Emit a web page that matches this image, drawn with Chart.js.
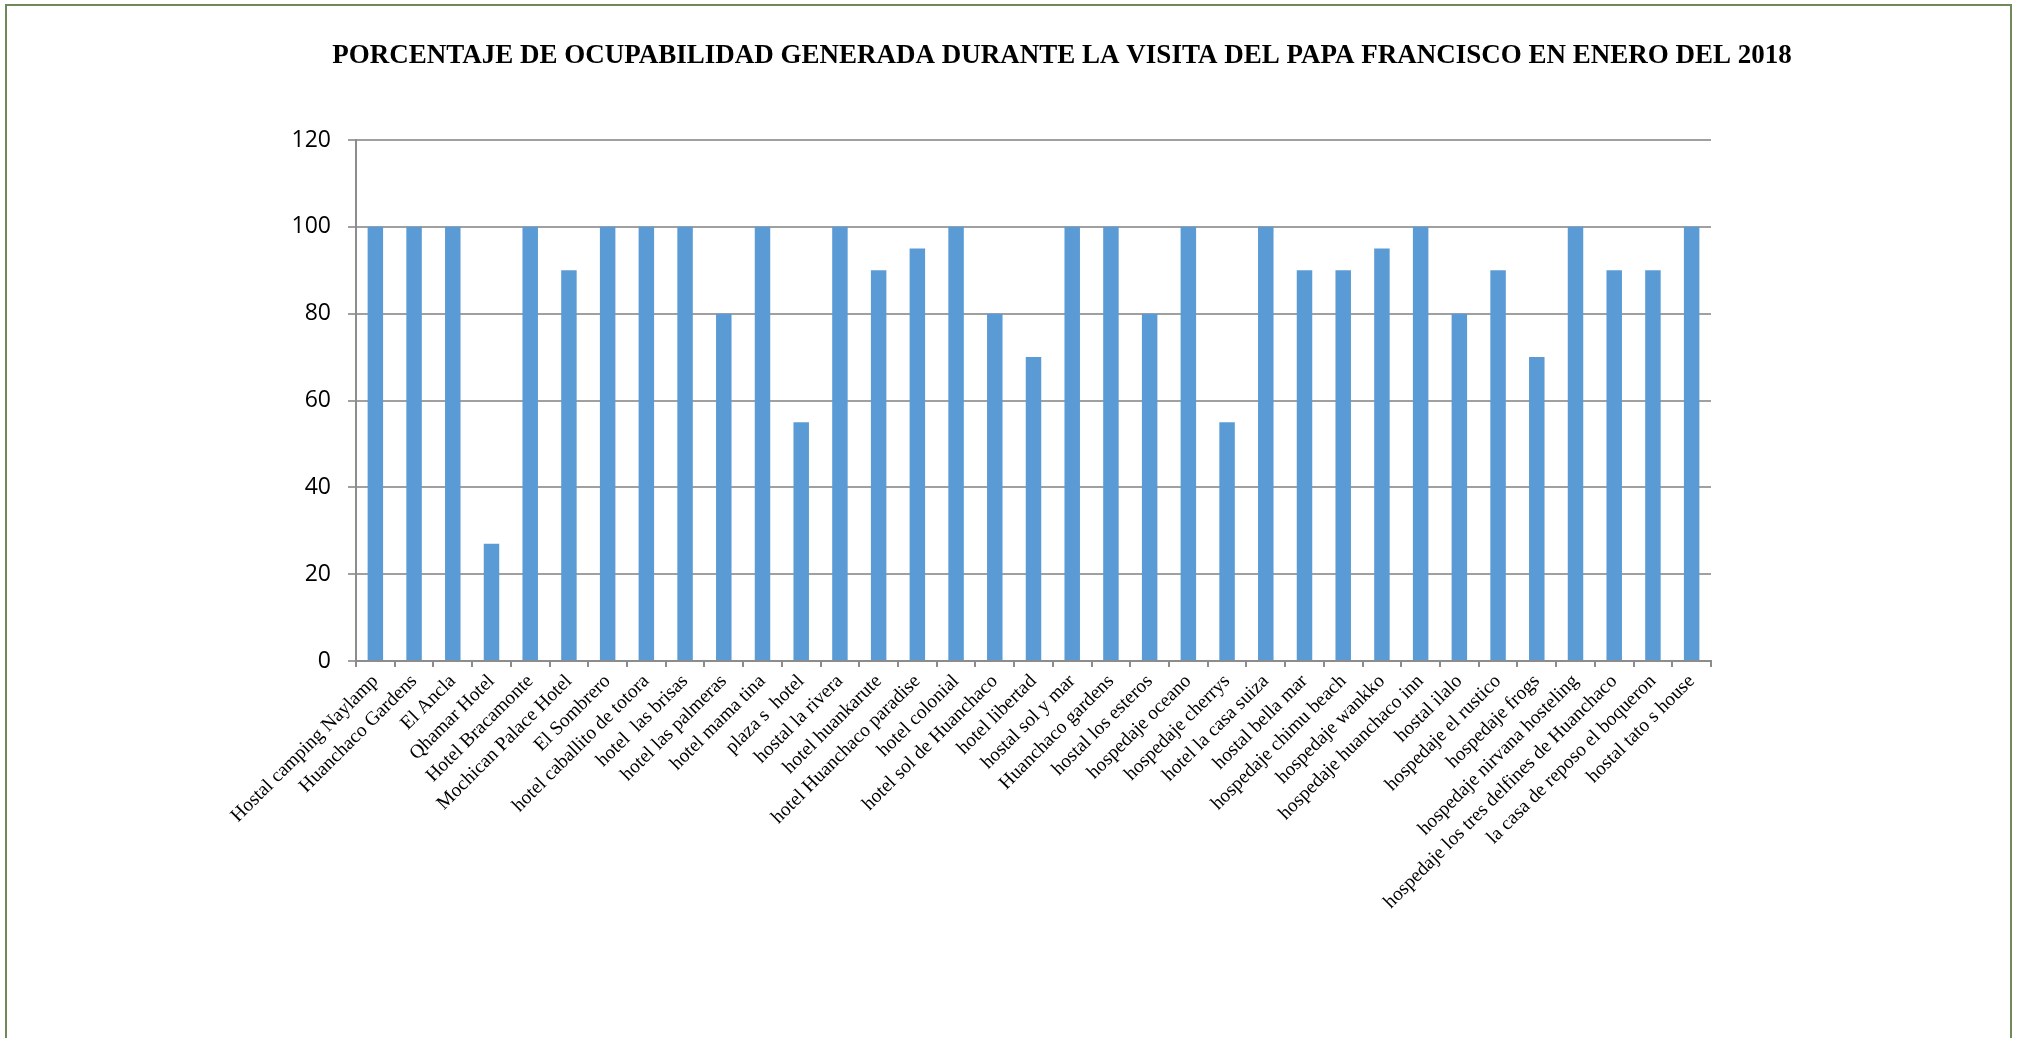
<!DOCTYPE html>
<html>
<head>
<meta charset="utf-8">
<script src="https://cdn.jsdelivr.net/npm/chart.js@4.4.1/dist/chart.umd.min.js"></script>
<style>
  html, body { margin: 0; padding: 0; background: #ffffff; overflow: hidden; }
  #frame { position: absolute; left: 5px; top: 4px; width: 2007px; height: 1100px; border: 2px solid #6f895b; box-sizing: border-box; }
  #wrap { position: absolute; left: 0; top: 0; width: 2020px; height: 1038px; }
</style>
</head>
<body>
<div id="frame"></div>
<div id="wrap"><canvas id="c" width="2020" height="1038"></canvas></div>
<script>
const chartTitle = "PORCENTAJE DE OCUPABILIDAD GENERADA DURANTE LA VISITA DEL PAPA FRANCISCO EN ENERO DEL 2018";

const categories = [
  "Hostal camping Naylamp", "Huanchaco Gardens", "El Ancla", "Qhamar Hotel", "Hotel Bracamonte",
  "Mochican Palace Hotel", "El Sombrero", "hotel caballito de totora", "hotel  las brisas", "hotel las palmeras",
  "hotel mama tina", "plaza s  hotel", "hostal la rivera", "hotel huankarute", "hotel Huanchaco paradise",
  "hotel colonial", "hotel sol de Huanchaco", "hotel libertad", "hostal sol y mar", "Huanchaco gardens",
  "hostal los esteros", "hospedaje oceano", "hospedaje cherrys", "hotel la casa suiza", "hostal bella mar",
  "hospedaje chimu beach", "hospedaje wankko", "hospedaje huanchaco inn", "hostal ilalo", "hospedaje el rustico",
  "hospedaje frogs", "hospedaje nirvana hosteling", "hospedaje los tres delfines de Huanchaco", "la casa de reposo el boqueron", "hostal tato s house"
];

const values = [
  100, 100, 100, 27, 100,
  90, 100, 100, 100, 80,
  100, 55, 100, 90, 95,
  100, 80, 70, 100, 100,
  80, 100, 55, 100, 90,
  90, 95, 100, 80, 90,
  70, 100, 90, 90, 100
];

const yMin = 0;
const yMax = 120;
const yStep = 20;

const titlePlugin = {
  id: 'customTitle',
  afterDraw(chart) {
    const ctx = chart.ctx;
    ctx.save();
    ctx.font = 'bold 27px "Liberation Serif", "Times New Roman", serif';
    ctx.fillStyle = '#000000';
    ctx.textAlign = 'center';
    ctx.textBaseline = 'alphabetic';
    ctx.fillText(chartTitle, 1062, 63);
    ctx.restore();
  }
};

new Chart(document.getElementById('c'), {
  type: 'bar',
  data: {
    labels: categories,
    datasets: [{
      data: values,
      backgroundColor: '#5b9bd5',
      borderWidth: 0,
      barPercentage: 0.4,
      categoryPercentage: 1.0
    }]
  },
  options: {
    responsive: false,
    animation: false,
    devicePixelRatio: 1,
    layout: { padding: { left: 0, right: 309, top: 140, bottom: 0 } },
    plugins: {
      legend: { display: false },
      title: { display: false },
      tooltip: { enabled: false }
    },
    scales: {
      x: {
        offset: true,
        grid: {
          offset: true,
          drawOnChartArea: false,
          drawTicks: true,
          tickLength: 6,
          color: '#8c8c8c',
          lineWidth: 2
        },
        border: { display: true, color: '#8c8c8c', width: 2 },
        ticks: {
          autoSkip: false,
          minRotation: 45,
          maxRotation: 45,
          padding: 3,
          color: '#000000',
          font: { family: '"Liberation Serif", "Times New Roman", serif', size: 19.5 }
        },
        afterFit(scale) { scale.height = 1038 - 661; }
      },
      y: {
        min: yMin,
        max: yMax,
        grid: {
          color: '#a0a0a0',
          lineWidth: 2,
          drawTicks: true,
          tickLength: 8
        },
        border: { display: true, color: '#8c8c8c', width: 2 },
        ticks: {
          stepSize: yStep,
          padding: 17,
          color: '#000000',
          font: { family: '"Open Sans", "Liberation Sans", sans-serif', size: 23 }
        },
        afterFit(scale) { scale.width = 356; }
      }
    }
  },
  plugins: [titlePlugin]
});
</script>
</body>
</html>
